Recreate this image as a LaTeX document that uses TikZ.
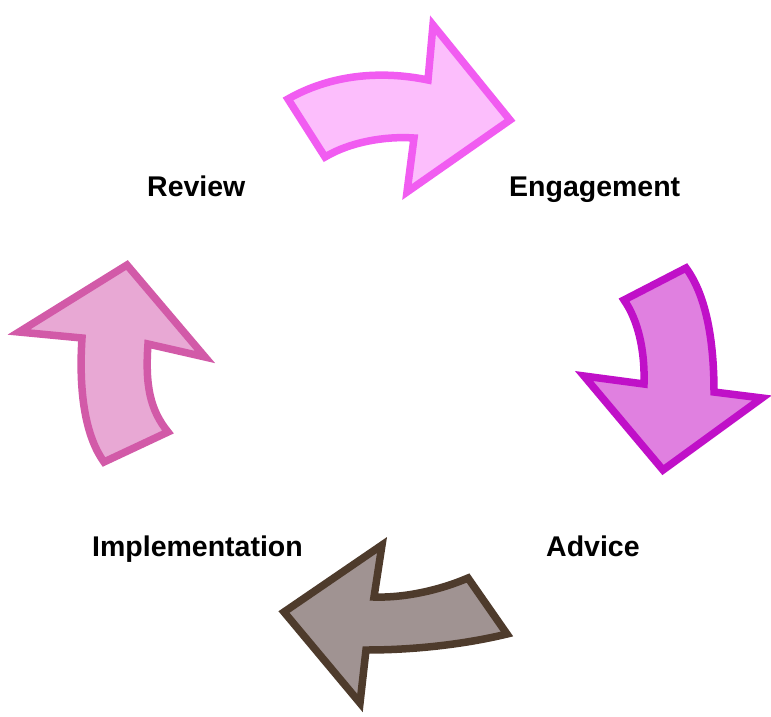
\documentclass[tikz,border=0pt]{standalone}
\usepackage{fontspec}
\usepackage{tikz}
\usepackage{xcolor}
\setmainfont{Liberation Sans}
\definecolor{engline}{HTML}{F15CF1}
\definecolor{engfill}{HTML}{FCBEFC}
\definecolor{advline}{HTML}{C010C8}
\definecolor{advfill}{HTML}{E080E0}
\definecolor{impline}{HTML}{4E3B2C}
\definecolor{impfill}{HTML}{A09392}
\definecolor{revline}{HTML}{D25AA8}
\definecolor{revfill}{HTML}{E8A8D4}
\tikzset{
  cyclearrow/.style={line width=7.5pt, line join=miter, miter limit=20},
  stagelabel/.style={anchor=base west, inner sep=0pt,
    font=\bfseries\fontsize{28.5}{33}\selectfont}
}

\begin{document}
\begin{tikzpicture}[x=1pt,y=-1pt]
  \useasboundingbox (0,0) rectangle (771,716);
  \draw[cyclearrow,draw=engline,fill=engfill]
    (288,99) .. controls (330,75) and (380,70) .. (428,80) -- (433,25)
    -- (510,120) -- (407,192) -- (414,138)
    .. controls (385,136) and (350,142) .. (325,157) -- cycle;
  \draw[cyclearrow,draw=advline,fill=advfill]
    (624,300) -- (686,268) .. controls (706,295) and (714,340) .. (714,392)
    -- (762,398) -- (663,470) -- (584,376) -- (644,384)
    .. controls (645,350) and (638,320) .. (624,300) -- cycle;
  \draw[cyclearrow,draw=impline,fill=impfill]
    (382,545) -- (374,597) .. controls (405,598) and (440,590) .. (468,578)
    -- (507,634) .. controls (470,643) and (420,650) .. (366,650)
    -- (360,703) -- (284,612) -- cycle;
  \draw[cyclearrow,draw=revline,fill=revfill]
    (127,265) -- (205,357) -- (148,344) .. controls (145,385) and (150,410) .. (168,432)
    -- (104,462) .. controls (88,440) and (78,400) .. (82,338) -- (19,332) -- cycle;
  \node[stagelabel] (review) at (147,196) {Review};
  \node[stagelabel] (engagement) at (509,196) {Engagement};
  \node[stagelabel] (advice) at (546,556) {Advice};
  \node[stagelabel] (implementation) at (92,556) {Implementation};
\end{tikzpicture}
\end{document}
